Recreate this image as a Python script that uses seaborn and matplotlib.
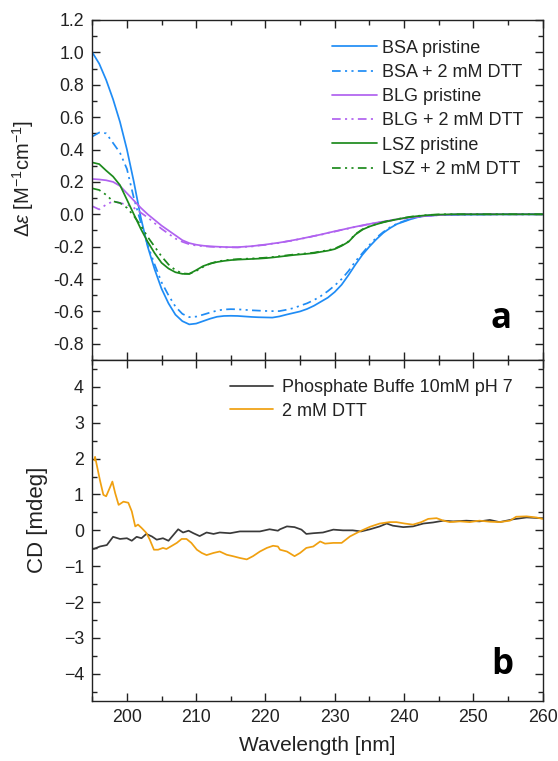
import numpy as np
import pandas as pd
import matplotlib
matplotlib.use("Agg")
import matplotlib.pyplot as plt
from matplotlib.ticker import MultipleLocator, FormatStrFormatter
import seaborn as sns

# ---------------- data: panel a ----------------
wl_a = list(range(195, 261))

bsa_pristine = [1.00, 0.93, 0.83, 0.71, 0.57, 0.40, 0.20, -0.02, -0.20, -0.34,
                -0.46, -0.55, -0.62, -0.66, -0.68, -0.675, -0.66, -0.645, -0.633, -0.628,
                -0.627, -0.628, -0.631, -0.634, -0.636, -0.637, -0.638, -0.631, -0.62, -0.61,
                -0.60, -0.585, -0.565, -0.54, -0.515, -0.48, -0.435, -0.375, -0.31, -0.25,
                -0.20, -0.155, -0.115, -0.085, -0.06, -0.045, -0.03, -0.018, -0.01, -0.007,
                -0.005, -0.004, -0.003, -0.002, -0.002, -0.002, -0.001, -0.001, -0.001, 0.0,
                0.0, 0.0, 0.0, 0.0, 0.0, 0.0]
bsa_dtt = [0.48, 0.505, 0.50, 0.44, 0.38, 0.28, 0.10, -0.05, -0.19, -0.31,
           -0.42, -0.50, -0.57, -0.615, -0.635, -0.632, -0.62, -0.607, -0.595, -0.588,
           -0.586, -0.587, -0.59, -0.593, -0.595, -0.597, -0.598, -0.598, -0.59, -0.58,
           -0.565, -0.55, -0.53, -0.505, -0.475, -0.44, -0.40, -0.35, -0.29, -0.24,
           -0.19, -0.145, -0.11, -0.08, -0.058, -0.042, -0.028, -0.017, -0.01, -0.007,
           -0.005, -0.004, -0.003, -0.002, -0.002, -0.001, -0.001, -0.001, 0.0, 0.0,
           0.0, 0.0, 0.0, 0.0, 0.0, 0.0]
blg_pristine = [0.218, 0.215, 0.21, 0.20, 0.175, 0.13, 0.085, 0.04, 0.0, -0.035,
                -0.07, -0.10, -0.13, -0.16, -0.178, -0.188, -0.194, -0.198, -0.20, -0.202,
                -0.203, -0.203, -0.20, -0.197, -0.192, -0.187, -0.181, -0.175, -0.168, -0.16,
                -0.152, -0.143, -0.134, -0.125, -0.115, -0.105, -0.096, -0.086, -0.077, -0.068,
                -0.06, -0.052, -0.045, -0.038, -0.031, -0.025, -0.02, -0.015, -0.011, -0.008,
                -0.005, -0.003, -0.002, -0.001, 0.0, 0.0, 0.0, 0.0, 0.0, 0.0,
                0.0, 0.0, 0.0, 0.0, 0.0, 0.0]
blg_dtt = [0.05, 0.03, 0.06, 0.08, 0.07, 0.06, 0.04, 0.01, -0.02, -0.055,
           -0.09, -0.12, -0.15, -0.17, -0.185, -0.193, -0.197, -0.20, -0.202, -0.205,
           -0.204, -0.205, -0.201, -0.199, -0.193, -0.189, -0.181, -0.177, -0.168, -0.162,
           -0.152, -0.145, -0.134, -0.127, -0.115, -0.107, -0.096, -0.088, -0.077, -0.07,
           -0.06, -0.054, -0.045, -0.04, -0.031, -0.027, -0.02, -0.016, -0.011, -0.009,
           -0.005, -0.004, -0.002, -0.001, 0.0, 0.0, 0.0, 0.0, 0.0, 0.0,
           0.0, 0.0, 0.0, 0.0, 0.0, 0.0]
lsz_pristine = [0.32, 0.31, 0.27, 0.233, 0.18, 0.09, 0.0, -0.09, -0.17, -0.24,
                -0.30, -0.335, -0.358, -0.368, -0.368, -0.345, -0.32, -0.305, -0.295, -0.288,
                -0.283, -0.28, -0.278, -0.276, -0.274, -0.271, -0.267, -0.262, -0.257, -0.252,
                -0.248, -0.244, -0.24, -0.232, -0.225, -0.215, -0.195, -0.17, -0.125, -0.095,
                -0.076, -0.062, -0.05, -0.04, -0.031, -0.023, -0.016, -0.011, -0.007, -0.004,
                -0.002, -0.001, 0.0, 0.0, 0.0, 0.0, 0.0, 0.0, 0.0, 0.0,
                0.0, 0.0, 0.0, 0.0, 0.0, 0.0]
lsz_dtt = [0.16, 0.15, 0.12, 0.08, 0.07, 0.04, -0.01, -0.07, -0.14, -0.20,
           -0.26, -0.31, -0.345, -0.365, -0.368, -0.35, -0.325, -0.305, -0.292, -0.285,
           -0.28, -0.277, -0.275, -0.273, -0.271, -0.268, -0.264, -0.259, -0.254, -0.249,
           -0.245, -0.241, -0.237, -0.229, -0.222, -0.212, -0.192, -0.167, -0.122, -0.093,
           -0.074, -0.06, -0.048, -0.038, -0.03, -0.022, -0.015, -0.01, -0.006, -0.003,
           -0.001, 0.0, 0.0, 0.0, 0.0, 0.0, 0.0, 0.0, 0.0, 0.0,
           0.0, 0.0, 0.0, 0.0, 0.0, 0.0]

labels_a = ["BSA pristine", "BSA + 2 mM DTT", "BLG pristine", "BLG + 2 mM DTT",
            "LSZ pristine", "LSZ + 2 mM DTT"]

# ---------------- data: panel b ----------------
wl_dtt = [195.3, 195.4, 196.1, 196.6, 197.0, 197.6, 197.9, 198.3, 198.8, 199.5,
          200.2, 200.7, 201.2, 201.6, 202.1, 202.8, 203.3, 203.9, 204.5, 205.2,
          205.7, 206.5, 207.2, 207.9, 208.6, 209.3, 210.1, 210.8, 211.5, 212.5,
          213.4, 214.4, 215.3, 216.3, 217.3, 218.2, 219.2, 220.2, 221.1, 221.8,
          222.1, 223.1, 224.2, 225.0, 225.9, 226.9, 227.9, 228.6, 229.8, 231.0,
          232.2, 233.6, 235.1, 236.5, 237.9, 238.9, 240.1, 241.3, 242.5, 243.5,
          244.7, 245.7, 246.6, 248.1, 249.5, 250.9, 252.4, 253.8, 255.3, 256.2,
          257.7, 259.1, 260.0]
cd_dtt = [1.95, 2.05, 1.40, 0.99, 0.95, 1.22, 1.36, 1.04, 0.71, 0.80,
          0.77, 0.53, 0.11, 0.16, 0.07, -0.07, -0.26, -0.54, -0.54, -0.49,
          -0.52, -0.43, -0.35, -0.24, -0.24, -0.35, -0.54, -0.63, -0.69, -0.63,
          -0.59, -0.68, -0.72, -0.77, -0.81, -0.72, -0.59, -0.49, -0.43, -0.45,
          -0.54, -0.59, -0.72, -0.63, -0.49, -0.45, -0.31, -0.37, -0.35, -0.35,
          -0.17, -0.03, 0.10, 0.19, 0.23, 0.23, 0.19, 0.16, 0.23, 0.32,
          0.34, 0.27, 0.23, 0.25, 0.23, 0.27, 0.24, 0.23, 0.27, 0.38,
          0.39, 0.36, 0.32]

wl_buf = [195.2, 196.1, 197.1, 198.0, 199.0, 200.0, 200.7, 201.4, 202.1, 202.8,
          203.6, 204.3, 205.2, 206.0, 206.7, 207.4, 208.1, 208.9, 209.6, 210.5,
          211.5, 212.5, 213.4, 214.9, 216.3, 217.7, 219.2, 220.6, 221.8, 222.1,
          223.1, 224.2, 225.2, 225.9, 226.9, 228.3, 229.8, 231.2, 232.6, 233.8,
          235.1, 236.5, 237.5, 238.4, 239.9, 241.3, 242.8, 244.2, 245.7, 247.1,
          249.0, 250.9, 252.4, 253.8, 255.8, 257.7, 259.8, 260.0]
cd_buf = [-0.52, -0.45, -0.41, -0.18, -0.24, -0.22, -0.29, -0.18, -0.22, -0.10,
          -0.17, -0.26, -0.22, -0.29, -0.13, 0.03, -0.06, -0.01, -0.08, -0.16,
          -0.06, -0.10, -0.06, -0.08, -0.03, -0.03, -0.03, 0.03, -0.01, 0.03,
          0.11, 0.09, 0.02, -0.10, -0.08, -0.06, 0.02, 0.00, 0.00, -0.03,
          0.03, 0.11, 0.19, 0.13, 0.09, 0.11, 0.19, 0.22, 0.27, 0.25,
          0.27, 0.25, 0.29, 0.23, 0.31, 0.36, 0.34, 0.34]

labels_b = ["Phosphate Buffe 10mM pH 7", "2 mM DTT"]

# ---------------- styling ----------------
sns.set_theme(style="ticks")
plt.rcParams["font.family"] = ["Liberation Sans", "DejaVu Sans"]
plt.rcParams["mathtext.fontset"] = "custom"
plt.rcParams["mathtext.rm"] = "Liberation Sans"
plt.rcParams["mathtext.it"] = "Liberation Sans:italic"
plt.rcParams["axes.linewidth"] = 1.0

BLUE = "#1f8cf5"
PURPLE = "#b062f0"
GREEN = "#1c8a1c"
GRAY = "#3a3a3a"
ORANGE = "#f0a010"
DASHDOT2 = (0, (5, 2.5, 1.2, 2.5, 1.2, 2.5))
FS_TICK = 12.8
FS_LEG = 13

W, H = 558, 761
fig = plt.figure(figsize=(W / 100, H / 100), dpi=100)
L, R = 92.3, 542.5
ax_a = fig.add_axes([L / W, 1 - 360 / H, (R - L) / W, 340 / H])
ax_b = fig.add_axes([L / W, 1 - 700.7 / H, (R - L) / W, 340.7 / H])

series_a = [bsa_pristine, bsa_dtt, blg_pristine, blg_dtt, lsz_pristine, lsz_dtt]
colors_a = [BLUE, BLUE, PURPLE, PURPLE, GREEN, GREEN]
styles_a = ["-", DASHDOT2, "-", DASHDOT2, "-", DASHDOT2]
for vals, lab, c, ls in zip(series_a, labels_a, colors_a, styles_a):
    df = pd.DataFrame({"wl": wl_a, "v": vals})
    sns.lineplot(data=df, x="wl", y="v", ax=ax_a, color=c, linestyle=ls,
                 linewidth=1.25, label=lab, sort=False, estimator=None)

df_b1 = pd.DataFrame({"wl": wl_buf, "v": cd_buf})
df_b2 = pd.DataFrame({"wl": wl_dtt, "v": cd_dtt})
sns.lineplot(data=df_b1, x="wl", y="v", ax=ax_b, color=GRAY, linewidth=1.25,
             label=labels_b[0], sort=False, estimator=None)
sns.lineplot(data=df_b2, x="wl", y="v", ax=ax_b, color=ORANGE, linewidth=1.25,
             label=labels_b[1], sort=False, estimator=None)

for ax in (ax_a, ax_b):
    ax.set_xlim(195, 260)
    ax.xaxis.set_major_locator(MultipleLocator(10))
    ax.xaxis.set_minor_locator(MultipleLocator(5))
    ax.tick_params(which="both", direction="in", top=True, right=True,
                   colors="#222222", labelcolor="#222222", labelsize=FS_TICK)
    ax.tick_params(which="major", length=6, width=1.0, pad=6)
    ax.tick_params(which="minor", length=3.5, width=1.0)
    for s in ax.spines.values():
        s.set_color("#222222")
    ax.set_facecolor("white")

ax_a.set_ylim(-0.9, 1.2)
ax_a.yaxis.set_major_locator(MultipleLocator(0.2))
ax_a.yaxis.set_minor_locator(MultipleLocator(0.1))
ax_a.yaxis.set_major_formatter(FormatStrFormatter("%.1f"))
ax_a.tick_params(axis="x", labelbottom=False)
ax_a.set_xlabel("")
ax_a.set_ylabel(r"$\Delta\mathit{\varepsilon}$ [M$^{-1}$cm$^{-1}$]", fontsize=14.5,
                color="#222222")
ax_a.yaxis.set_label_coords(-0.125, 0.535)

ax_b.set_ylim(-4.75, 4.75)
ax_b.yaxis.set_major_locator(MultipleLocator(1))
ax_b.yaxis.set_minor_locator(MultipleLocator(0.5))
ax_b.set_xlabel("Wavelength [nm]", fontsize=15, labelpad=7, color="#222222")
ax_b.set_ylabel("CD [mdeg]", fontsize=16, color="#222222")
ax_b.yaxis.set_label_coords(-0.098, 0.53)

leg_a = ax_a.legend(loc="upper left", bbox_to_anchor=(0.532, 0.942), frameon=False,
                    fontsize=FS_LEG, handlelength=2.5, handletextpad=0.28,
                    labelspacing=0.40, borderpad=0, borderaxespad=0)
leg_b = ax_b.legend(loc="upper left", bbox_to_anchor=(0.306, 0.943), frameon=False,
                    fontsize=FS_LEG, handlelength=2.4, handletextpad=0.5,
                    labelspacing=0.34, borderpad=0, borderaxespad=0)
for leg in (leg_a, leg_b):
    for t in leg.get_texts():
        t.set_color("#222222")

fig.text(501 / W, 1 - 319 / H, "a", fontsize=25, fontweight="bold",
         family=["Open Sans", "DejaVu Sans"], ha="center", va="center", color="black")
fig.text(502 / W, 1 - 665 / H, "b", fontsize=25, fontweight="bold",
         family=["Open Sans", "DejaVu Sans"], ha="center", va="center", color="black")

fig.savefig("out.png", dpi=100, facecolor="white")
